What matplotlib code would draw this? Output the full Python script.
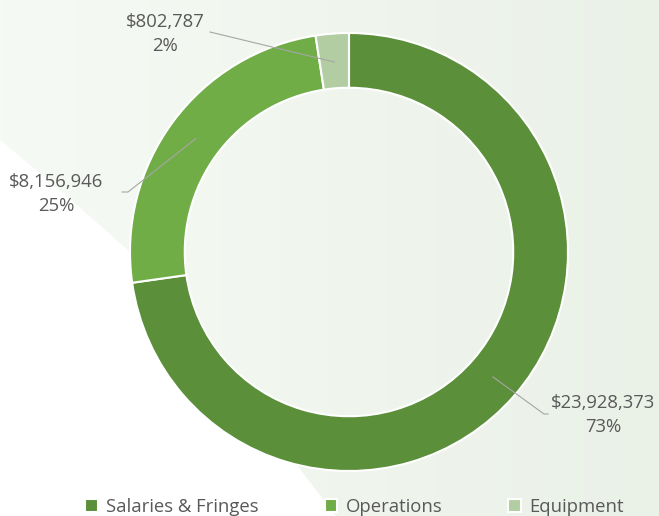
import numpy as np
import matplotlib
matplotlib.use('Agg')
import matplotlib.pyplot as plt
from matplotlib.colors import to_rgb
from matplotlib.patches import Polygon

plt.rcParams['font.family'] = ['Open Sans', 'DejaVu Sans']

# budget split
categories = ['Salaries & Fringes', 'Operations', 'Equipment']
amounts = [23928373, 8156946, 802787]
colors = ['#5b8f3a', '#70ad47', '#b3cda3']

W, H = 659, 516
CX, CY, R = 349, 252, 219  # pie centre / radius in pixels


def px(x, y):
    # pixel position -> pie data coordinates (radius = 1)
    return (x - CX) / R, (CY - y) / R


fig = plt.figure(figsize=(W / 100, H / 100), dpi=100)

# background: soft green gradient with a white sweep at the lower left
bg = fig.add_axes([0, 0, 1, 1], zorder=0)
bg.set_xlim(0, W)
bg.set_ylim(H, 0)
bg.axis('off')
c_left = np.array(to_rgb('#f6faf5'))
c_right = np.array(to_rgb('#eaf1e7'))
t = np.linspace(0, 1, 200)[None, :, None]
grad = c_left + (c_right - c_left) * t
grad = np.repeat(grad, 2, axis=0)
bg.imshow(grad, extent=[0, W, H, 0], aspect='auto')
bg.add_patch(Polygon([(0, 140), (60, 190), (131, 253), (200, 340), (270, 430),
                      (336, 516), (0, 516)], closed=True, fc='white', ec='none'))

ax = fig.add_axes([0, 0, 1, 1], zorder=1)
ax.patch.set_alpha(0)
wedges, _ = ax.pie(amounts, colors=colors, startangle=90, counterclock=False,
                   radius=1, wedgeprops=dict(width=0.25, edgecolor='white', linewidth=1.5))
ax.set_xlim(px(0, 0)[0], px(W, 0)[0])
ax.set_ylim(px(0, H)[1], px(0, 0)[1])
ax.set_aspect('equal')
ax.axis('off')

total = sum(amounts)
# label text centre and leader line end (pixels) per slice
label_pos = [(603, 415), (56, 194), (165, 34)]
line_end = [[(544, 414), (548, 414)], [(128, 192), (122, 192)], [(210, 32)]]

for w, amt, (tx, ty), ends in zip(wedges, amounts, label_pos, line_end):
    mid = np.deg2rad((w.theta1 + w.theta2) / 2)
    ax0, ay0 = 0.87 * np.cos(mid), 0.87 * np.sin(mid)
    xs = [ax0] + [px(*e)[0] for e in ends]
    ys = [ay0] + [px(*e)[1] for e in ends]
    ax.plot(xs, ys, color='#a6a6a6', lw=0.8, zorder=5)
    pct = round(amt / total * 100)
    lx, ly = px(tx, ty)
    ax.text(lx, ly, f'${amt:,}\n{pct}%', ha='center', va='center',
            fontsize=13.3, color='#595959', linespacing=1.45)

leg = ax.legend(wedges, categories, loc='center',
                bbox_to_anchor=(0.5 + 25 / W, 1 - 507 / H),
                ncol=3, frameon=False, fontsize=13.3, handlelength=0.7, handleheight=0.7,
                handletextpad=0.45, columnspacing=3.55, labelcolor='#595959')

fig.savefig('out.png', dpi=100)
